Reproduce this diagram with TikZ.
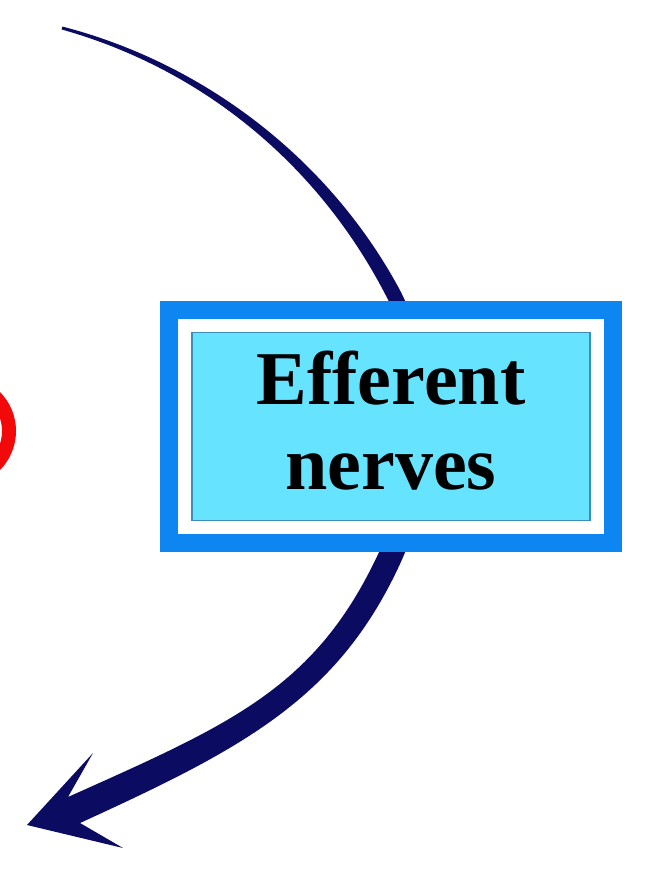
\documentclass[tikz,border=0pt]{standalone}
\usepackage{fontspec}
\setmainfont{Liberation Serif}
\usetikzlibrary{positioning}
\definecolor{navy}{HTML}{0B0B62}
\definecolor{frameblue}{HTML}{0D86F2}
\definecolor{boxcyan}{HTML}{66E3FF}
\definecolor{boxedge}{HTML}{3D8EB5}
\definecolor{ringred}{HTML}{F20A0A}

\begin{document}
\begin{tikzpicture}[x=1pt, y=-1pt,
  frame/.style={draw=frameblue, line width=18pt, fill=white,
                minimum width=444pt, minimum height=233pt, inner sep=0pt},
  namebox/.style={draw=boxedge, line width=1.5pt, fill=boxcyan,
                  minimum width=398pt, minimum height=188pt, inner sep=0pt},
  nametext/.style={inner sep=0pt, align=center,
                   font=\bfseries\fontsize{76}{85}\selectfont},
  ring/.style={circle, draw=ringred, line width=14pt, minimum size=97pt,
               inner sep=0pt},
]
\useasboundingbox (0,0) rectangle (647,876);
\node[ring] (ring) at (-39.5,431) {};
\coordinate (start) at (62,28);
\coordinate (tip) at (27,825);
% tapered arrow, drawn behind the box
\fill[navy] ([shift={(0.4,-1.45)}]start)
  .. controls (205.2,63.6) and (329.5,159.6) .. (399.6,289.5)
  .. controls (436.9,360.3) and (434.3,489.4) .. (400.9,562)
  .. controls (338.7,698.4) and (243.6,748.2) .. (80,823)
  -- (123,848) -- (tip) -- (93,753) -- (68,797)
  .. controls (232.4,723.4) and (315.9,688) .. (379.1,552)
  .. controls (412.5,479.4) and (423.7,367.3) .. (386.4,296.5)
  .. controls (318.9,165.2) and (203.6,69.4) .. ([shift={(-0.4,1.45)}]start)
  -- cycle;
\node[frame] (frame) at (391,426.5) {};
\node[namebox] (eff) at (frame.center) {};
\node[nametext] (efftext) at ([yshift=6pt]eff.center) {Efferent\\nerves};
\end{tikzpicture}
\end{document}
